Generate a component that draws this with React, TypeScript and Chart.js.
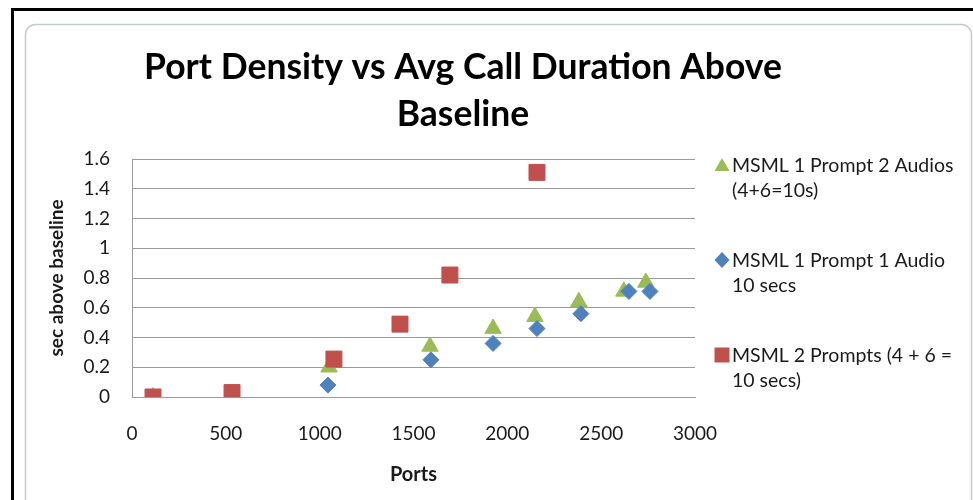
import React, { useEffect, useRef } from 'react';
import { Chart, registerables } from 'chart.js';

Chart.register(...registerables);

const W = 973;
const H = 500;

// ---- text ----
const titleLines = ['Port Density vs Avg Call Duration Above', 'Baseline'];
const xAxisTitle = 'Ports';
const yAxisTitle = 'sec above baseline';

// ---- series names (legend, two lines each) ----
const greenName = ['MSML 1 Prompt 2 Audios', '(4+6=10s)'];
const blueName = ['MSML 1 Prompt 1 Audio', '10 secs'];
const redName = ['MSML 2 Prompts (4 + 6 =', '10 secs)'];

// ---- data ----
const greenPorts = [112, 1050, 1588, 1924, 2147, 2381, 2621, 2738];
const greenSecs = [0, 0.2, 0.34, 0.46, 0.54, 0.64, 0.71, 0.77];

const bluePorts = [112, 1044, 1593, 1924, 2158, 2392, 2648, 2760];
const blueSecs = [0, 0.08, 0.25, 0.36, 0.46, 0.56, 0.71, 0.71];

const redPorts = [112, 533, 1076, 1428, 1694, 2158];
const redSecs = [0, 0.03, 0.255, 0.49, 0.82, 1.51];

// ---- ticks ----
const xTicks = [0, 500, 1000, 1500, 2000, 2500, 3000];
const yTicks = [0, 0.2, 0.4, 0.6, 0.8, 1, 1.2, 1.4, 1.6];

const GREEN = '#9BBB59';
const BLUE = '#4F81BD';
const RED = '#C0504D';
const GRID = '#9a9a9a';
const TEXT = '#1a1a1a';
const FONT = 'Lato';

const toPoints = (xs: number[], ys: number[]) => xs.map((x, i) => ({ x, y: ys[i] }));

const framePlugin = {
  id: 'frame',
  beforeDraw(chart: any) {
    const ctx = chart.ctx as CanvasRenderingContext2D;
    ctx.save();
    ctx.fillStyle = '#ffffff';
    ctx.fillRect(0, 0, W, H);
    // outer black frame (top + left)
    ctx.fillStyle = '#000000';
    ctx.fillRect(11, 8, W - 11, 3);
    ctx.fillRect(11, 8, 3, H - 8);
    // inner rounded chart border
    ctx.strokeStyle = '#c3cbcb';
    ctx.lineWidth = 1.5;
    ctx.beginPath();
    (ctx as any).roundRect(25.5, 24.5, 946, H + 20, 10);
    ctx.stroke();
    ctx.restore();
  },
};

function drawMarker(ctx: CanvasRenderingContext2D, style: string, x: number, y: number, color: string) {
  ctx.fillStyle = color;
  ctx.beginPath();
  if (style === 'triangle') {
    ctx.moveTo(x, y - 7);
    ctx.lineTo(x + 7.5, y + 6);
    ctx.lineTo(x - 7.5, y + 6);
  } else if (style === 'rectRot') {
    ctx.moveTo(x, y - 8);
    ctx.lineTo(x + 7.5, y);
    ctx.lineTo(x, y + 8);
    ctx.lineTo(x - 7.5, y);
  } else {
    ctx.rect(x - 7.5, y - 7.5, 15, 15);
  }
  ctx.closePath();
  ctx.fill();
}

const textPlugin = {
  id: 'texts',
  afterDraw(chart: any) {
    const ctx = chart.ctx as CanvasRenderingContext2D;
    ctx.save();
    // title
    ctx.fillStyle = '#000000';
    ctx.font = `bold 35.5px ${FONT}`;
    ctx.textAlign = 'center';
    ctx.textBaseline = 'alphabetic';
    ctx.fillText(titleLines[0], 463, 79);
    ctx.fillText(titleLines[1], 463, 126);

    // legend
    const items = [
      { lines: greenName, style: 'triangle', color: GREEN, y: 165 },
      { lines: blueName, style: 'rectRot', color: BLUE, y: 260 },
      { lines: redName, style: 'rect', color: RED, y: 355 },
    ];
    ctx.font = `19.5px ${FONT}`;
    ctx.textAlign = 'left';
    ctx.textBaseline = 'middle';
    for (const it of items) {
      drawMarker(ctx, it.style, 722, it.y, it.color);
      ctx.fillStyle = TEXT;
      it.lines.forEach((ln, i) => ctx.fillText(ln, 732, it.y + 1 + i * 24.5));
    }
    ctx.restore();
  },
};

export default function App() {
  const ref = useRef<HTMLCanvasElement | null>(null);

  useEffect(() => {
    if (!ref.current) return;
    const chart = new Chart(ref.current, {
      type: 'scatter',
      data: {
        datasets: [
          {
            label: greenName.join(' '),
            data: toPoints(greenPorts, greenSecs),
            pointStyle: 'triangle',
            pointRadius: 9.5,
            backgroundColor: GREEN,
            borderColor: GREEN,
            borderWidth: 1,
            order: 2,
          },
          {
            label: blueName.join(' '),
            data: toPoints(bluePorts, blueSecs),
            pointStyle: 'rectRot',
            pointRadius: 8,
            backgroundColor: BLUE,
            borderColor: BLUE,
            borderWidth: 1,
            order: 1,
          },
          {
            label: redName.join(' '),
            data: toPoints(redPorts, redSecs),
            pointStyle: 'rect',
            pointRadius: 11.3,
            backgroundColor: RED,
            borderColor: RED,
            borderWidth: 1,
            order: 0,
          },
        ],
      },
      options: {
        responsive: false,
        animation: false,
        events: [],
        layout: { padding: { left: 45, top: 159, right: 278, bottom: 0 } },
        plugins: {
          legend: { display: false },
          title: { display: false },
          tooltip: { enabled: false },
        },
        scales: {
          x: {
            type: 'linear',
            min: 0,
            max: 3000,
            afterBuildTicks: (s: any) => {
              s.ticks = xTicks.map((v) => ({ value: v }));
            },
            afterFit: (s: any) => {
              s.height = 103;
            },
            grid: { display: false, drawTicks: false },
            border: { display: true, color: GRID, width: 1 },
            ticks: {
              padding: 25,
              color: TEXT,
              font: { family: FONT, size: 19 },
              maxRotation: 0,
              callback: (v: any) => String(v),
            },
            title: {
              display: true,
              text: xAxisTitle,
              color: TEXT,
              font: { family: FONT, size: 20, weight: 'bold' },
              padding: { top: 0, bottom: 13 },
            },
          },
          y: {
            type: 'linear',
            min: 0,
            max: 1.6,
            afterBuildTicks: (s: any) => {
              s.ticks = yTicks.map((v) => ({ value: v }));
            },
            afterFit: (s: any) => {
              s.width = 87;
            },
            grid: { display: true, color: GRID, lineWidth: 1, drawTicks: false },
            border: { display: true, color: GRID, width: 1 },
            ticks: {
              padding: 22,
              color: TEXT,
              font: { family: FONT, size: 19 },
              callback: (v: any) => String(Number(Number(v).toFixed(1))),
            },
            title: {
              display: true,
              text: yAxisTitle,
              color: TEXT,
              font: { family: FONT, size: 19, weight: 'bold' },
              padding: { top: 0, bottom: 0 },
            },
          },
        },
      },
      plugins: [framePlugin, textPlugin],
    });
    return () => chart.destroy();
  }, []);

  return (
    <div style={{ position: 'fixed', left: 0, top: 0, width: W, height: H, background: '#fff' }}>
      <canvas ref={ref} width={W} height={H} style={{ display: 'block', width: W, height: H }} />
    </div>
  );
}
